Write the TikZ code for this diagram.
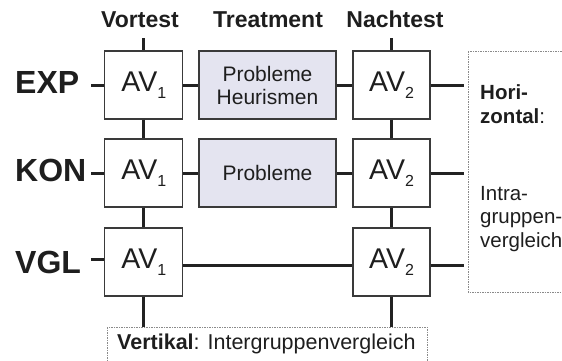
\documentclass[tikz,border=0pt]{standalone}
\usepackage{fontspec}
\setmainfont{Liberation Sans}
\definecolor{boxc}{HTML}{3A3A3A}
\definecolor{linec}{HTML}{222222}
\definecolor{txt}{HTML}{1E1E1E}
\definecolor{treatfill}{HTML}{E4E4F0}
\definecolor{dashc}{HTML}{8A8A8A}
\newcommand\avlabel[1]{AV\raisebox{-7pt}{\fontsize{16}{16}\selectfont #1}}
\begin{document}
\begin{tikzpicture}[x=1pt,y=-1pt,
  avbox/.style={draw=boxc, line width=1.1pt, fill=white, minimum height=68pt,
    minimum width=78pt, inner sep=0pt, text=txt, font=\fontsize{28.5}{30}\selectfont},
  treatbox/.style={draw=boxc, line width=1.1pt, fill=treatfill, minimum height=68pt,
    minimum width=137pt, inner sep=0pt, text=txt, align=center,
    font=\fontsize{21}{23}\selectfont},
  conn/.style={draw=linec, line width=3pt},
  grouplabel/.style={anchor=base west, inner sep=0pt, text=txt,
    font=\fontsize{32}{34}\selectfont\bfseries},
  headlabel/.style={anchor=base, inner sep=0pt, text=txt,
    font=\fontsize{23}{25}\selectfont\bfseries},
  notebox/.style={draw=dashc, line width=0.9pt, dash pattern=on 1.5pt off 1pt},
  notetext/.style={anchor=base west, inner sep=0pt, text=txt,
    font=\fontsize{20.5}{24}\selectfont}
]
\useasboundingbox (0,0) rectangle (562,360);
\clip (0,0) rectangle (562,360);

% dashed note boxes
\draw[notebox] (468,51) rectangle (600,292);
\draw[notebox] (107,327) rectangle (427,400);
\coordinate (hboxw) at (468,51);
\coordinate (vboxn) at (107,327);

% boxes
\node[avbox] (eav1) at (143.75,85) {\avlabel{1}};
\node[avbox] (kav1) at (143.75,173) {\avlabel{1}};
\node[avbox] (vav1) at (143.75,262) {\avlabel{1}};
\node[treatbox] (etr) at (267.5,85) {Probleme\\Heurismen};
\node[treatbox] (ktr) at (267.5,173) {Probleme};
\node[avbox, minimum width=77pt] (eav2) at (391.5,85) {\avlabel{2}};
\node[avbox, minimum width=77pt] (kav2) at (391.5,173) {\avlabel{2}};
\node[avbox, minimum width=77pt] (vav2) at (391.5,262) {\avlabel{2}};

% head labels
\node[headlabel] (hvor) at (140,27) {Vortest};
\node[headlabel] (htr) at (268,27) {Treatment};
\node[headlabel] (hnach) at (395,27) {Nachtest};

% group labels
\node[grouplabel] (lexp) at (15,93) {EXP};
\node[grouplabel] (lkon) at (15,181) {KON};
\node[grouplabel] (lvgl) at (15,273) {VGL};

% free ends
\coordinate (t1) at (143.75,38);
\coordinate (t2) at (391.5,38);
\coordinate (le) at (91,85);
\coordinate (lk) at (91,173);
\coordinate (lv) at (91,259);

% vertical connectors
\draw[conn] (t1) -- (eav1.north);
\draw[conn] (eav1.south) -- (kav1.north);
\draw[conn] (kav1.south) -- (vav1.north);
\draw[conn] (vav1.south) -- (vav1.south |- vboxn);
\draw[conn] (t2) -- (eav2.north);
\draw[conn] (eav2.south) -- (kav2.north);
\draw[conn] (kav2.south) -- (vav2.north);
\draw[conn] (vav2.south) -- (vav2.south |- vboxn);

% horizontal connectors
\draw[conn] (le) -- (eav1.west);
\draw[conn] (lk) -- (kav1.west);
\draw[conn] (lv) -- (lv -| vav1.west);
\draw[conn] (eav1.east) -- (etr.west);
\draw[conn] (etr.east) -- (eav2.west);
\draw[conn] (kav1.east) -- (ktr.west);
\draw[conn] (ktr.east) -- (kav2.west);
\draw[conn] ([yshift=-3pt]vav1.east) -- ([yshift=-3pt]vav2.west);
\draw[conn] (eav2.east) -- ([xshift=-4pt]hboxw |- eav2.east);
\draw[conn] (kav2.east) -- ([xshift=-4pt]hboxw |- kav2.east);
\draw[conn] ([yshift=-3pt]vav2.east) -- ([xshift=-4pt,yshift=-3pt]hboxw |- vav2.east);

% note texts
\node[notetext] (n1) at (480,99) {\textbf{Hori-}};
\node[notetext] (n2) at (480,123) {\textbf{zontal}:};
\node[notetext] (n3) at (480,200) {Intra-};
\node[notetext] (n4) at (480,223.5) {gruppen-};
\node[notetext] (n5) at (480,247) {vergleich};
\node[notetext, font=\fontsize{21.5}{24}\selectfont] (n6) at (117,349) {\textbf{Vertikal}: Intergruppenvergleich};
\end{tikzpicture}
\end{document}
